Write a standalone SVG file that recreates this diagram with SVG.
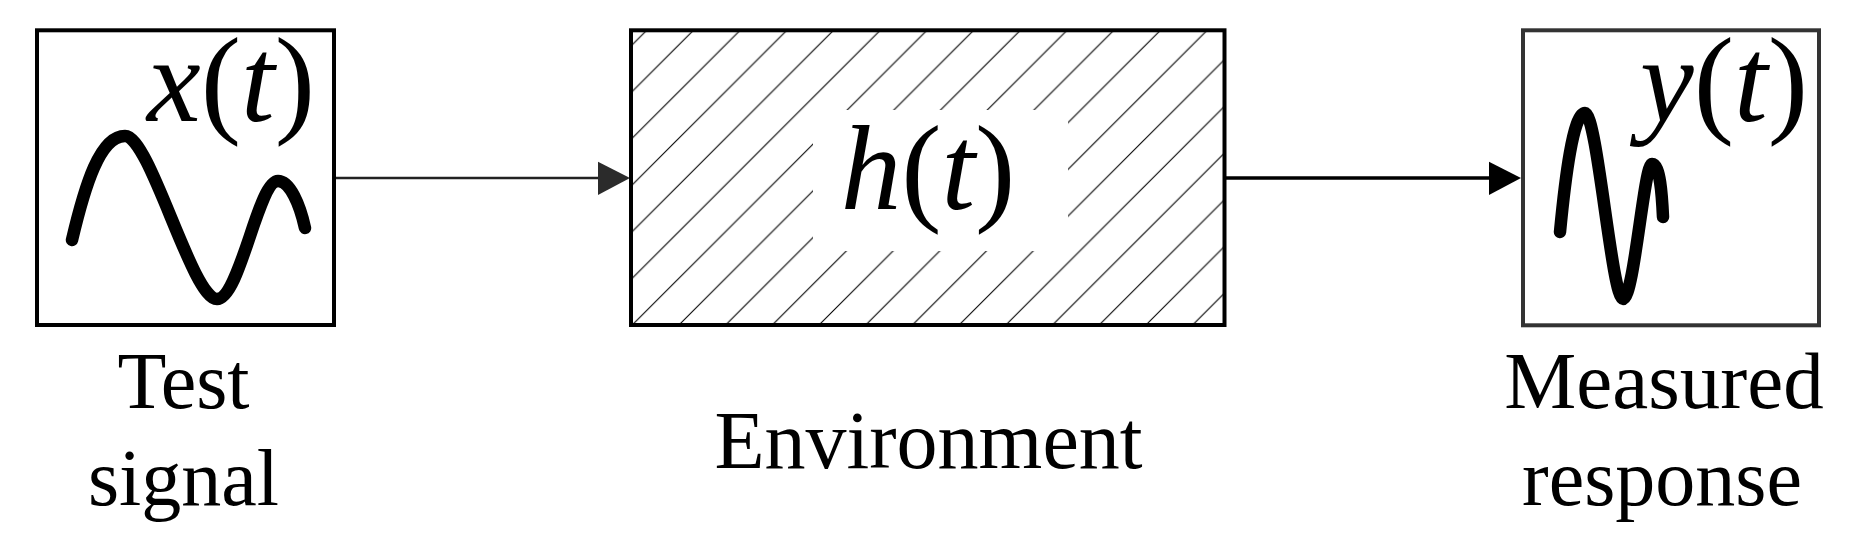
<svg xmlns="http://www.w3.org/2000/svg" width="1863" height="548" viewBox="0 0 1863 548">
<style>
.box{fill:none;stroke:#000;stroke-width:4}
.wave{fill:none;stroke:#000;stroke-width:12.5;stroke-linecap:round;stroke-linejoin:round}
.math{font-family:"Liberation Serif",serif;font-size:121px;fill:#000}
.it{font-style:italic}
.lbl{font-family:"Liberation Serif",serif;font-size:80px;fill:#000;text-anchor:middle}
</style>
<defs>
<pattern id="hatch" patternUnits="userSpaceOnUse" width="46.7" height="46.7" patternTransform="translate(23.2,0)">
<path d="M-5,51.7 L51.7,-5 M-5,5 L5,-5 M41.7,51.7 L51.7,41.7" stroke="#000" stroke-width="1.1"/>
</pattern>
</defs>
<rect width="1863" height="548" fill="#fff"/>
<g id="connectors">
<line x1="336" y1="178" x2="600" y2="178" stroke="#222" stroke-width="2.7"/>
<polygon points="598,161.7 630,178 598,195" fill="#2b2b2b"/>
<line x1="1226" y1="178" x2="1491" y2="178" stroke="#000" stroke-width="3.3"/>
<polygon points="1489,161.7 1521,178 1489,195" fill="#000"/>
</g>
<g id="test-signal">
<rect class="box" x="37" y="30.3" width="297" height="294.7"/>
<path class="wave" d="M72,240 C85,185 100,136 125,136 C150,136 192,299 217,299 C240,299 258,181 278,181 C290,181 300,205 305,228"/>
<text class="math" x="231" y="121" text-anchor="middle"><tspan class="it">x</tspan>(<tspan class="it">t</tspan>)</text>
<text class="lbl" x="183.5" y="408">Test</text>
<text class="lbl" x="183.5" y="505">signal</text>
</g>
<g id="environment">
<rect x="631" y="30.3" width="593.5" height="294.7" fill="url(#hatch)"/>
<rect x="813" y="110" width="255" height="141" fill="#fff"/>
<rect class="box" x="631" y="30.3" width="593.5" height="294.7"/>
<text class="math" x="928" y="208.5" text-anchor="middle"><tspan class="it">h</tspan>(<tspan class="it">t</tspan>)</text>
<text class="lbl" x="928.5" y="468" style="font-size:82px">Environment</text>
</g>
<g id="measured-response">
<rect class="box" x="1523" y="30.3" width="296" height="295" style="stroke:#333"/>
<path class="wave" d="M1560,232 C1565,180 1573,113 1585,113 C1597,113 1612,299 1623,299 C1634,299 1644,164 1652,164 C1660,164 1662,195 1663,217"/>
<text class="math" x="1724" y="121" text-anchor="middle"><tspan class="it">y</tspan>(<tspan class="it">t</tspan>)</text>
<text class="lbl" x="1664" y="408" style="font-size:81px">Measured</text>
<text class="lbl" x="1662" y="505">response</text>
</g>
</svg>
